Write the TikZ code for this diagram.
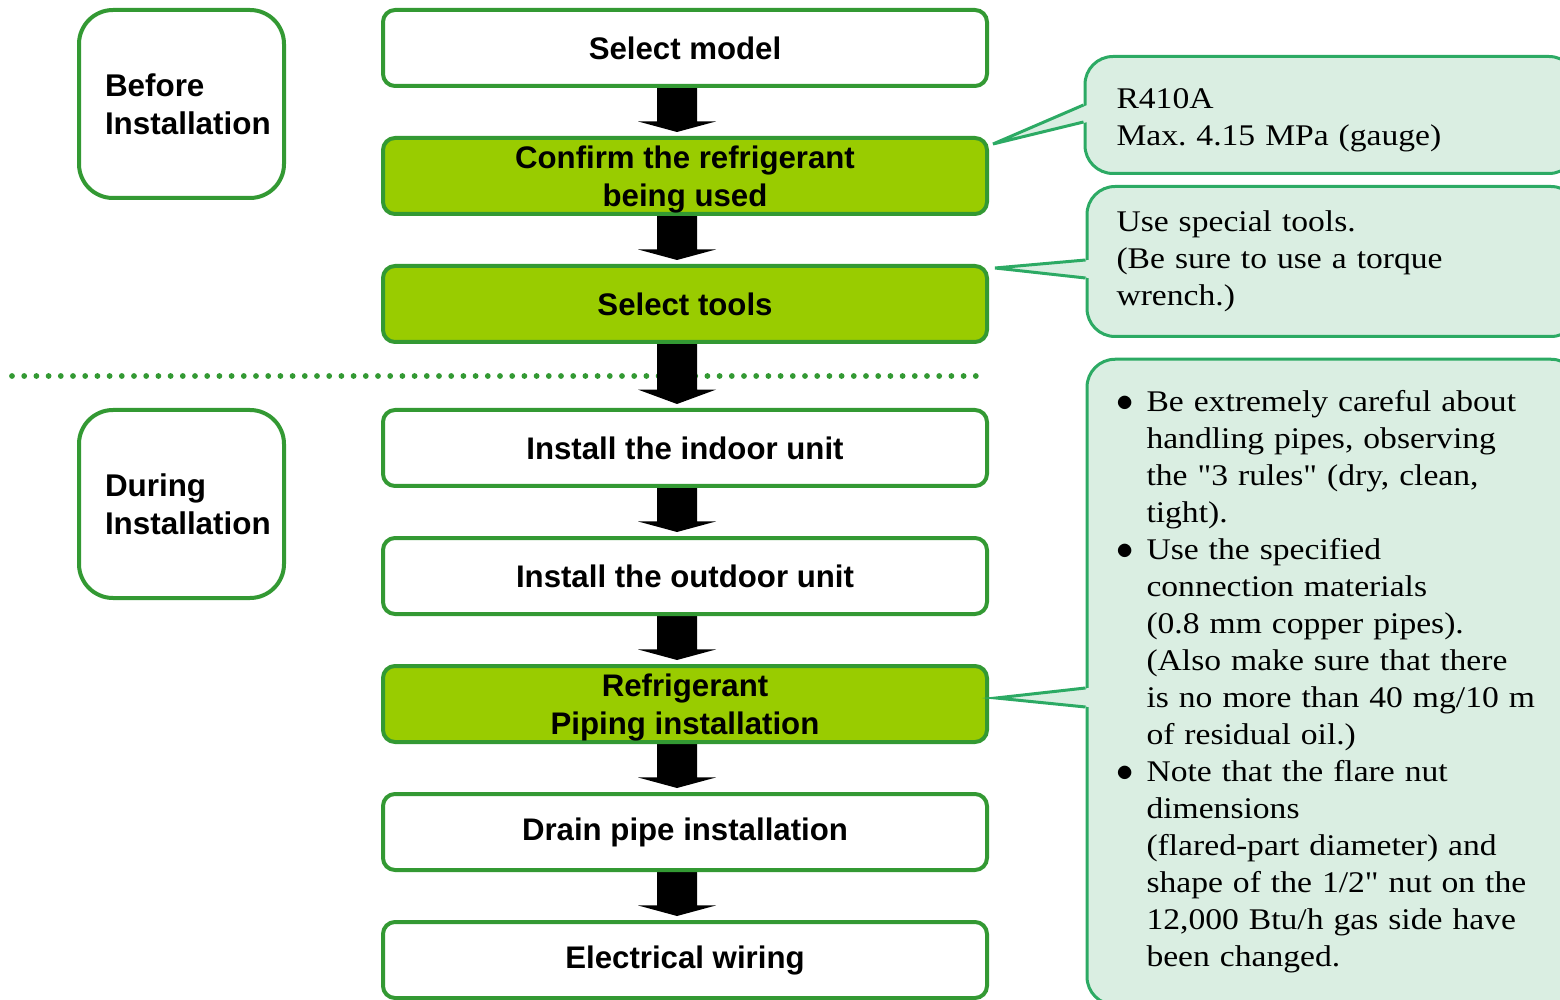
\documentclass[tikz,border=0pt]{standalone}
\usepackage{fontspec}
\setmainfont{Liberation Sans}
\newfontfamily\callfont[FakeStretch=1.12]{Liberation Serif}
\usetikzlibrary{calc,backgrounds}
\definecolor{flowgreen}{RGB}{51,153,51}
\definecolor{limefill}{RGB}{153,204,0}
\definecolor{callfill}{RGB}{218,238,226}
\definecolor{callline}{RGB}{44,170,100}
\frenchspacing
\newcommand\cbl[1]{\mbox{\makebox[13.5pt][l]{\hspace{-1.5pt}\scalebox{1.2}{$\bullet$}}#1}}
\newcommand\cil[1]{\mbox{\hspace{13.5pt}#1}}
\newcommand\flowarrow[2]{%
  \fill[black] let \p1=(#1.south), \p2=(#2.north),
    \n1={0.24*(\y1-\y2-2pt)} in
    (\x1-14pt,\y1) -- (\x1+6pt,\y1) -- (\x1+6pt,{\y2+2pt+\n1})
    -- (\x1+15.5pt,{\y2+2pt+\n1}) -- (\x1-4pt,{\y2+2pt})
    -- (\x1-23.5pt,{\y2+2pt+\n1}) -- (\x1-14pt,{\y2+2pt+\n1}) -- cycle;}
\newcommand\calloutptr[3]{%
  \fill[callfill] (#1) -- ([xshift=2pt]#2) -- ([xshift=2pt]#3) -- cycle;
  \draw[callline, line width=1.5pt] (#2) -- (#1) -- (#3);}
\tikzset{
  flowbox/.style={draw=flowgreen, line width=2pt, rounded corners=6pt,
    minimum width=302pt, minimum height=38pt, fill=white, align=center,
    inner sep=0pt, font=\fontsize{15.6pt}{19pt}\selectfont\bfseries},
  keybox/.style={flowbox, fill=limefill},
  twoline/.style={text depth=0pt},
  phasebox/.style={draw=flowgreen, line width=2pt, rounded corners=17pt,
    minimum width=102.5pt, minimum height=94pt, text width=76.5pt,
    inner xsep=13pt, align=left, fill=white,
    font=\fontsize{15.7pt}{19pt}\selectfont\bfseries},
  callbox/.style={draw=callline, fill=callfill, line width=1.5pt,
    rounded corners=14pt, align=left, anchor=west,
    font={\callfont\fontsize{15pt}{18.5pt}\selectfont}},
  dotline/.style={draw=flowgreen, line width=2.9pt, line cap=round,
    dash pattern=on 0pt off 6.1pt}
}
\begin{document}
\begin{tikzpicture}[x=0.5pt,y=-0.5pt]
\useasboundingbox (0,0) rectangle (1560,1000);
% phase boxes
\node[phasebox] (before) at (181.5,104) {Before\\Installation};
\node[phasebox] (during) at (181.5,504) {During\\Installation};
% flow boxes
\node[flowbox] (b1) at (685,48) {Select model};
\node[keybox, twoline]  (b2) at (685,176) {Confirm the refrigerant\\being used};
\node[keybox]  (b3) at (685,304) {Select tools};
\node[flowbox] (b4) at (685,448) {Install the indoor unit};
\node[flowbox] (b5) at (685,576) {Install the outdoor unit};
\node[keybox, twoline]  (b6) at (685,704) {Refrigerant\\Piping installation};
\node[flowbox] (b7) at (685,832) {Drain pipe installation};
\node[flowbox] (b8) at (685,960) {Electrical wiring};
% callouts
\node[callbox, text width=214.5pt, inner xsep=15.75pt, minimum height=58.5pt,
  text depth=16.8pt]
  (c1) at (1083.5,115) {R410A\\Max. 4.15 MPa (gauge)};
\node[callbox, text width=216.5pt, inner xsep=14.75pt, minimum height=75pt]
  (c2) at (1085.5,261.5) {Use special tools.\\(Be sure to use a torque\\wrench.)};
\node[callbox, text width=213.5pt, inner xsep=16.25pt, minimum height=322.75pt]
  (c3) at (1085.5,682) {%
  \cbl{Be extremely careful about}\\
  \cil{handling pipes, observing}\\
  \cil{the "3 rules" (dry, clean,}\\
  \cil{tight).}\\
  \cbl{Use the specified}\\
  \cil{connection materials}\\
  \cil{(0.8 mm copper pipes).}\\
  \cil{(Also make sure that there}\\
  \cil{is no more than 40 mg/10 m}\\
  \cil{of residual oil.)}\\
  \cbl{Note that the flare nut}\\
  \cil{dimensions}\\
  \cil{(flared-part diameter) and}\\
  \cil{shape of the 1/2" nut on the}\\
  \cil{12,000 Btu/h gas side have}\\
  \cil{been changed.}};
% callout pointers
\coordinate (t1) at ($(b2.east)+(4,-32)$);
\coordinate (p1a) at ($(c1.west)+(0,-10)$);
\coordinate (p1b) at ($(c1.west)+(0,7)$);
\coordinate (t2) at ($(b3.east)+(6,-36)$);
\coordinate (p2a) at ($(c2.west)+(0,-1.5)$);
\coordinate (p2b) at ($(c2.west)+(0,16.5)$);
\coordinate (t3) at ($(b6.east)+(7,-6)$);
\coordinate (p3a) at ($(c3.west)+(0,6)$);
\coordinate (p3b) at ($(c3.west)+(0,25)$);
\calloutptr{t1}{p1a}{p1b}
\calloutptr{t2}{p2a}{p2b}
\calloutptr{t3}{p3a}{p3b}
\begin{pgfonlayer}{background}
  \coordinate (dl) at (12,376);
  \coordinate (dr) at (984,376);
  \draw[dotline] (dl) -- (dr);
  \flowarrow{b1}{b2}
  \flowarrow{b2}{b3}
  \flowarrow{b3}{b4}
  \flowarrow{b4}{b5}
  \flowarrow{b5}{b6}
  \flowarrow{b6}{b7}
  \flowarrow{b7}{b8}
\end{pgfonlayer}
\end{tikzpicture}
\end{document}
